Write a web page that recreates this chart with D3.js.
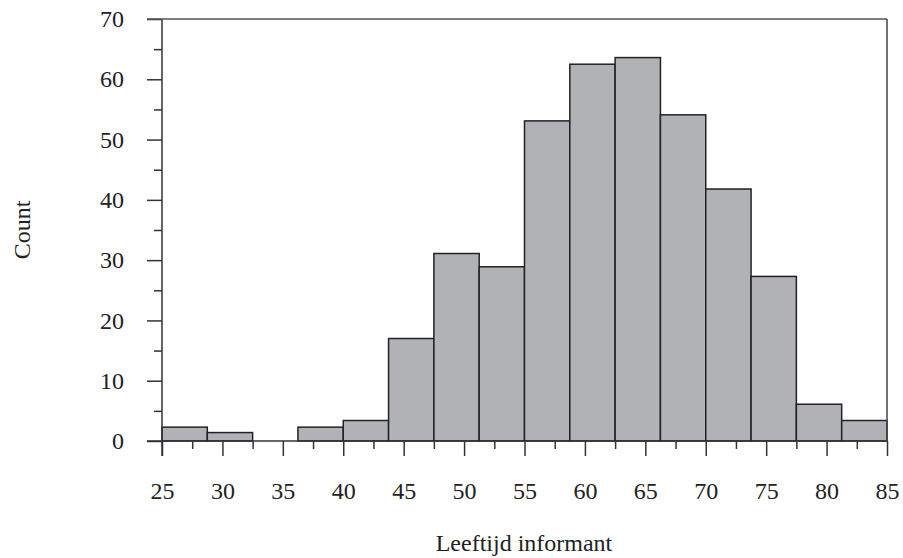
<!DOCTYPE html>
<html>
<head>
<meta charset="utf-8">
<script src="https://cdn.jsdelivr.net/npm/d3@7"></script>
<style>
  body { margin: 0; background: #fff; }
  text { font-family: "Liberation Serif", "DejaVu Serif", serif; fill: #222; }
</style>
</head>
<body>
<div id="chart"></div>
<script>
// bin edges (age) and counts per bin
const binStart = [25, 28.75, 32.5, 36.25, 40, 43.75, 47.5, 51.25, 55, 58.75, 62.5, 66.25, 70, 73.75, 77.5, 81.25]
const binWidth = 3.75
const counts = [2.3, 1.4, 0, 2.3, 3.4, 17, 31.1, 28.9, 53.1, 62.5, 63.6, 54.1, 41.8, 27.3, 6.1, 3.4]
const xTicks = [25, 30, 35, 40, 45, 50, 55, 60, 65, 70, 75, 80, 85]
const yTicks = [0, 10, 20, 30, 40, 50, 60, 70]

var W = 903, H = 558
var m = {l: 162, r: 16, t: 19, b: 117}

var svg = d3.select("#chart").append("svg")
    .attr("width", W).attr("height", H)

var x = d3.scaleLinear().domain([25, 85]).range([m.l, W - m.r])
var y = d3.scaleLinear().domain([0, 70]).range([H - m.b, m.t])

var axisColor = "#333"

// bars
svg.selectAll(".bar").data(binStart).enter().append("rect")
    .attr("class", "bar")
    .attr("x", d => x(d))
    .attr("width", d => x(d + binWidth) - x(d))
    .attr("y", (d, i) => y(counts[i]))
    .attr("height", (d, i) => y(0) - y(counts[i]))
    .attr("fill", "#b1b2b6")
    .attr("stroke", "#222")
    .attr("stroke-width", 1.5)
    .attr("display", (d, i) => counts[i] > 0 ? null : "none")

// y axis: major ticks every 10, minor every 5
var yAxis = svg.append("g").attr("transform", "translate(" + m.l + ",0)")
yAxis.call(d3.axisLeft(y).tickValues(yTicks).tickSize(15).tickPadding(23).tickFormat(d3.format("d")))
yAxis.append("g").call(d3.axisLeft(y).tickValues(d3.range(5, 70, 10)).tickSize(8).tickFormat(""))
yAxis.selectAll(".domain").remove()
yAxis.append("line").attr("y1", m.t).attr("y2", y(0) + 15)
    .attr("stroke", axisColor).attr("stroke-width", 1.5)

// x axis: major every 5, minor every 2.5
var xAxis = svg.append("g").attr("transform", "translate(0," + y(0) + ")")
xAxis.call(d3.axisBottom(x).tickValues(xTicks).tickSize(15).tickPadding(26).tickFormat(d3.format("d")))
xAxis.append("g").call(d3.axisBottom(x).tickValues(d3.range(27.5, 85, 5)).tickSize(8).tickFormat(""))
xAxis.selectAll(".domain").remove()
xAxis.append("line").attr("x1", m.l - 15).attr("x2", W - m.r)
    .attr("stroke", axisColor).attr("stroke-width", 1.5)

svg.selectAll(".tick line").attr("stroke", axisColor).attr("stroke-width", 1.5)
svg.selectAll(".tick text").style("font-size", "24px").attr("fill", "#222")

// frame: top and right
svg.append("line").attr("x1", m.l - 15).attr("x2", W - m.r).attr("y1", m.t).attr("y2", m.t)
    .attr("stroke", "#555").attr("stroke-width", 1.5)
svg.append("line").attr("x1", W - m.r).attr("x2", W - m.r).attr("y1", m.t).attr("y2", y(0))
    .attr("stroke", "#444").attr("stroke-width", 1.5)

// axis titles
svg.append("text").text("Count")
    .attr("transform", "translate(30,230) rotate(-90)")
    .attr("text-anchor", "middle").style("font-size", "24px")
svg.append("text").text("Leeftijd informant")
    .attr("x", 524).attr("y", 551)
    .attr("text-anchor", "middle").style("font-size", "24px")
</script>
</body>
</html>
